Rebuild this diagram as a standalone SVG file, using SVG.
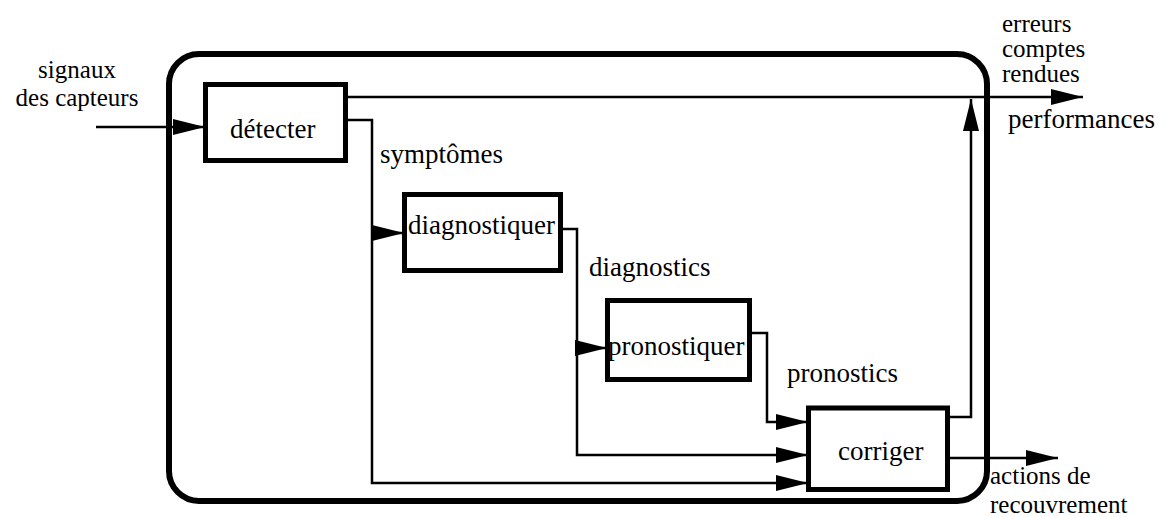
<svg xmlns="http://www.w3.org/2000/svg" width="1168" height="517" viewBox="0 0 1168 517">
  <style>
    text { font-family: "Liberation Serif", "DejaVu Serif", "Times New Roman", serif; font-size: 27px; fill: #000; }
    .sm { font-size: 25px; }
    .box { fill: #fff; stroke: #000; stroke-width: 5; }
    .frame { fill: none; stroke: #000; stroke-width: 6; }
    .wire { fill: none; stroke: #000; stroke-width: 2.5; }
  </style>
  <defs>
    <marker id="head" viewBox="0 0 32 16" refX="32" refY="8" markerWidth="32" markerHeight="16" markerUnits="userSpaceOnUse" orient="auto">
      <path d="M0,0 L32,8 L0,16 Z" fill="#000"/>
    </marker>
  </defs>

  <rect width="1168" height="517" fill="#fff"/>

  <!-- enclosing system boundary -->
  <rect id="systeme" class="frame" x="169" y="54" width="818" height="447" rx="30"/>

  <!-- connectors -->
  <g id="connecteurs">
    <path class="wire" d="M96,127 H205" stroke-width="3" marker-end="url(#head)"/>
    <path class="wire" d="M346,97 H1083" marker-end="url(#head)"/>
    <path class="wire" d="M346,120 H372 V483 H808" marker-end="url(#head)"/>
    <path class="wire" d="M372,233 H404" marker-end="url(#head)"/>
    <path class="wire" d="M561,229 H577 V455 H808" marker-end="url(#head)"/>
    <path class="wire" d="M577,348 H607" marker-end="url(#head)"/>
    <path class="wire" d="M750,333 H767 V422 H808" marker-end="url(#head)"/>
    <path class="wire" d="M948,417 H971 V99" marker-end="url(#head)"/>
    <path class="wire" d="M948,458 H1058" marker-end="url(#head)"/>
  </g>

  <!-- processing blocks -->
  <g id="detecter">
    <rect class="box" x="205.5" y="84.5" width="140" height="76"/>
    <text x="230" y="138">détecter</text>
  </g>
  <g id="diagnostiquer">
    <rect class="box" x="404.5" y="194.5" width="156" height="76"/>
    <text x="408" y="234">diagnostiquer</text>
  </g>
  <g id="pronostiquer">
    <rect class="box" x="607.5" y="300.5" width="142" height="79"/>
    <text x="608" y="355">pronostiquer</text>
  </g>
  <g id="corriger">
    <rect class="box" x="808.5" y="408" width="139" height="81.5"/>
    <text x="838" y="460">corriger</text>
  </g>

  <!-- flow labels -->
  <g id="etiquettes">
    <text class="sm" x="77" y="78" text-anchor="middle">signaux</text>
    <text class="sm" x="77" y="106" text-anchor="middle">des capteurs</text>
    <text x="380" y="163">symptômes</text>
    <text x="589" y="276">diagnostics</text>
    <text x="787" y="382">pronostics</text>
    <text class="sm" x="1002" y="32">erreurs</text>
    <text class="sm" x="1002" y="57">comptes</text>
    <text class="sm" x="1002" y="82">rendues</text>
    <text x="1008" y="128">performances</text>
    <text class="sm" x="990" y="484">actions de</text>
    <text class="sm" x="990" y="513">recouvrement</text>
  </g>
</svg>
